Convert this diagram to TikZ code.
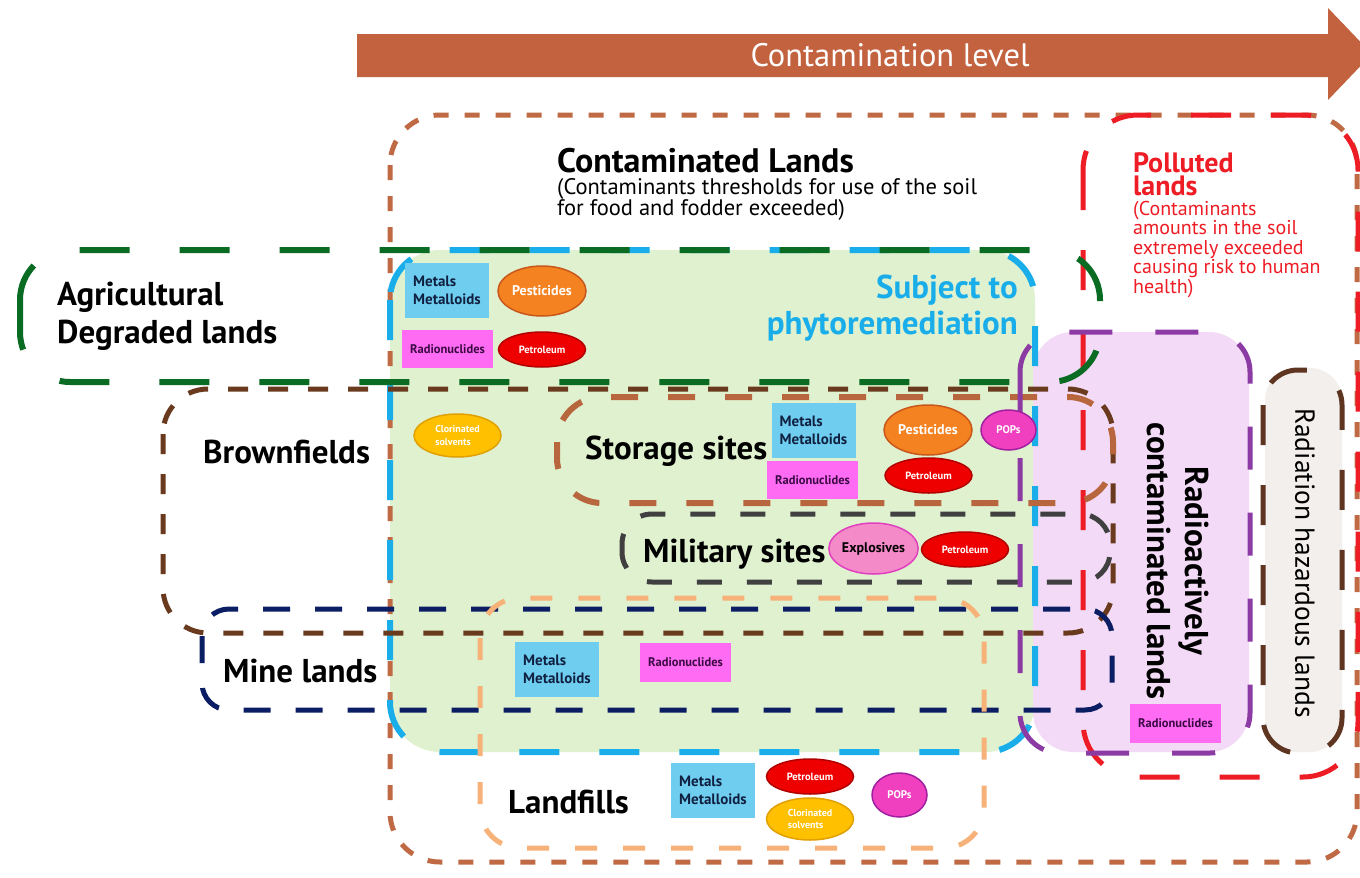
\documentclass[tikz,border=0pt]{standalone}
\usepackage{fontspec}
\setmainfont{PT Sans}
\usetikzlibrary{shapes.geometric}
\definecolor{arrowc}{HTML}{C2623F}
\definecolor{contc}{HTML}{BF6A45}
\definecolor{greenfill}{HTML}{E0F1CF}
\definecolor{cyanc}{HTML}{19AEEA}
\definecolor{agric}{HTML}{0A6B22}
\definecolor{brownc}{HTML}{6A3A1E}
\definecolor{storc}{HTML}{B8663E}
\definecolor{milc}{HTML}{404040}
\definecolor{minec}{HTML}{0B1D63}
\definecolor{landc}{HTML}{F7B279}
\definecolor{redc}{HTML}{EE1C24}
\definecolor{purc}{HTML}{8B3BA3}
\definecolor{lavfill}{HTML}{F3DAF6}
\definecolor{grayfill}{HTML}{F3EFEC}
\definecolor{radhc}{HTML}{5E3520}
\definecolor{metalc}{HTML}{6FCDF0}
\definecolor{metalt}{HTML}{102040}
\definecolor{radioc}{HTML}{FF6BF2}
\definecolor{radiot}{HTML}{3B0A45}
\definecolor{pestf}{HTML}{F58220}
\definecolor{pestb}{HTML}{C8571B}
\definecolor{petf}{HTML}{EE0000}
\definecolor{petb}{HTML}{B00000}
\definecolor{clorf}{HTML}{FFC000}
\definecolor{clorb}{HTML}{E0A000}
\definecolor{popf}{HTML}{F040C0}
\definecolor{popb}{HTML}{A020A0}
\definecolor{explf}{HTML}{F58AC8}
\definecolor{explb}{HTML}{E040C0}
\tikzset{
  contbox/.style={draw=contc, line width=5pt, dash pattern=on 15pt off 16pt, rounded corners=50pt},
  polbox/.style={draw=redc, line width=5pt, dash pattern=on 40pt off 40pt, rounded corners=55pt},
  agribox/.style={draw=agric, line width=6pt, dash pattern=on 50pt off 50pt, rounded corners=50pt},
  phytobox/.style={draw=cyanc, line width=6pt, dash pattern=on 40pt off 40pt, rounded corners=50pt},
  brownbox/.style={draw=brownc, line width=5pt, dash pattern=on 20pt off 20pt, rounded corners=45pt},
  storbox/.style={draw=storc, line width=6pt, dash pattern=on 27pt off 30pt, rounded corners=45pt},
  milbox/.style={draw=milc, line width=5pt, dash pattern=on 25pt off 25pt, rounded corners=30pt},
  minebox/.style={draw=minec, line width=5pt, dash pattern=on 27pt off 25pt, rounded corners=27pt},
  landbox/.style={draw=landc, line width=5pt, dash pattern=on 22pt off 26pt, rounded corners=40pt},
  purbox/.style={draw=purc, line width=5pt, dash pattern=on 43pt off 43pt, rounded corners=40pt},
  radhbox/.style={draw=radhc, line width=5pt, dash pattern=on 40pt off 40pt, rounded corners=35pt},
  big/.style={font=\fontsize{33}{38}\selectfont\bfseries, inner sep=0pt},
  small/.style={font=\fontsize{22.5}{24}\selectfont, inner sep=0pt},
  redsmall/.style={font=\fontsize{20}{22}\selectfont, text=redc, inner sep=0pt, anchor=base west},
  metal/.style={fill=metalc, text=metalt, minimum width=84pt, minimum height=55pt, inner sep=0pt, align=left, font=\fontsize{15}{18.5}\selectfont\bfseries},
  radio/.style={fill=radioc, text=radiot, minimum width=91pt, minimum height=38pt, inner sep=0pt, font=\fontsize{12.5}{14}\selectfont\bfseries},
  ell/.style={ellipse, line width=1.5pt, inner sep=0pt},
  pest/.style={ell, fill=pestf, draw=pestb, text=white, minimum width=88pt, minimum height=50pt, font=\fontsize{14}{16}\selectfont\bfseries},
  petro/.style={ell, fill=petf, draw=petb, text=white, minimum width=87pt, minimum height=35pt, font=\fontsize{10.5}{12}\selectfont\bfseries},
  clor/.style={ell, fill=clorf, draw=clorb, text=white, minimum width=87pt, minimum height=43pt, align=left, font=\fontsize{10}{12.5}\selectfont\bfseries},
  pops/.style={ell, fill=popf, draw=popb, text=white, minimum width=55pt, minimum height=42pt, font=\fontsize{11}{12}\selectfont\bfseries},
  expl/.style={ell, fill=explf, draw=explb, text=black, minimum width=87pt, minimum height=51pt, font=\fontsize{14}{16}\selectfont\bfseries},
}
\begin{document}
\begin{tikzpicture}[x=1pt,y=-1pt]
\useasboundingbox (0,0) rectangle (1360,878);
\path[clip] (0,0) rectangle (1360,878);
\fill[white] (0,0) rectangle (1360,878);
% arrow
\fill[arrowc] (357,34) -- (1328,34) -- (1328,8) -- (1372,54) -- (1328,100) -- (1328,77) -- (357,77) -- cycle;
\node[text=white, font=\fontsize{32.5}{36}\selectfont, inner sep=0pt] (level) at (890,55) {Contamination level};
% fills
\fill[greenfill, rounded corners=50pt] (390,250) rectangle (1035,752);
\fill[lavfill, rounded corners=40pt] (1033,332) rectangle (1249,752);
\fill[grayfill, rounded corners=32pt] (1265,368) rectangle (1342,752);
% dashed frames
\draw[contbox] (390,115) rectangle (1357,862);
\draw[polbox] (1083,115) rectangle (1358,777);
\draw[phytobox] (390,250) rectangle (1035,752);
\draw[agribox] (20,250) rectangle (1100,382);
\draw[brownbox] (163,389) rectangle (1113,633);
\draw[storbox] (557,397) rectangle (1113,503);
\draw[milbox] (622,514) rectangle (1110,582);
\draw[minebox] (202,609) rectangle (1112,710);
\draw[landbox] (480,598) rectangle (984,848);
\draw[purbox] (1020,332) rectangle (1250,753);
\draw[radhbox] (1263,370) rectangle (1342,753);
% titles
\node[font=\fontsize{34}{38}\selectfont\bfseries, inner sep=0pt, anchor=base west] (contt) at (557,172) {Contaminated Lands};
\node[small, anchor=base west] (cont1) at (557,194) {(Contaminants thresholds for use of the soil};
\node[small, anchor=base west] (cont2) at (557,215) {for food and fodder exceeded)};
\node[font=\fontsize{28}{30}\selectfont\bfseries, text=redc, inner sep=0pt, anchor=base west] (pol1) at (1133,172) {Polluted};
\node[font=\fontsize{28}{30}\selectfont\bfseries, text=redc, inner sep=0pt, anchor=base west] (pol2) at (1133,195) {lands};
\node[redsmall] (polt1) at (1133,215) {(Contaminants};
\node[redsmall] (polt2) at (1133,234.5) {amounts in the soil};
\node[redsmall] (polt3) at (1133,254) {extremely exceeded};
\node[redsmall] (polt4) at (1133,273.5) {causing risk to human};
\node[redsmall] (polt5) at (1133,293) {health)};
\node[big, anchor=base west] (agri1) at (57,305) {Agricultural};
\node[big, anchor=base west] (agri2) at (57,343) {Degraded lands};
\node[big, text=cyanc, anchor=base east] (phy1) at (1018,298) {Subject to};
\node[big, text=cyanc, anchor=base east] (phy2) at (1018,334) {phytoremediation};
\node[big, anchor=base west] (brownt) at (203,463) {Brownfields};
\node[big, anchor=base west] (stort) at (585,459) {Storage sites};
\node[big, anchor=base west] (milt) at (643,562) {Military sites};
\node[big, anchor=base west] (minet) at (223,682) {Mine lands};
\node[big, anchor=base west] (landt) at (508,813) {Landfills};
\node[font=\fontsize{33}{38}\selectfont\bfseries, rotate=-90, align=center, inner sep=0pt] (radt) at (1178,561) {Radioactively\\contaminated lands};
\node[font=\fontsize{27.5}{30}\selectfont, rotate=-90, inner sep=0pt] (radht) at (1305,563) {Radiation hazardous lands};
% items: phytoremediation top
\node[metal] (m1) at (447,290.5) {Metals\\Metalloids};
\node[radio] (r1) at (447.5,349) {Radionuclides};
\node[pest] (p1) at (542,291) {Pesticides};
\node[petro] (pe1) at (542,349.5) {Petroleum};
\node[clor] (c1) at (457.5,435.5) {Clorinated\\solvents};
% storage
\node[metal] (m2) at (813.5,430.5) {Metals\\Metalloids};
\node[radio] (r2) at (812.5,480) {Radionuclides};
\node[pest] (p2) at (928,430) {Pesticides};
\node[petro] (pe2) at (928.5,475.5) {Petroleum};
\node[pops, minimum height=40pt] (po2) at (1008.5,430) {POPs};
% military
\node[expl] (ex) at (873.5,548.5) {Explosives};
\node[petro] (pe3) at (965,549.5) {Petroleum};
% mine
\node[metal] (m3) at (557,669.5) {Metals\\Metalloids};
\node[radio, minimum height=39pt] (r3) at (685.5,662.5) {Radionuclides};
% landfills
\node[metal] (m4) at (713,790.5) {Metals\\Metalloids};
\node[petro] (pe4) at (810,776.5) {Petroleum};
\node[clor, minimum height=42pt] (c2) at (810,819) {Clorinated\\solvents};
\node[pops, minimum height=44pt] (po4) at (899.5,795) {POPs};
% radioactive
\node[radio, minimum height=39pt] (r4) at (1175.5,723.5) {Radionuclides};
\end{tikzpicture}
\end{document}
